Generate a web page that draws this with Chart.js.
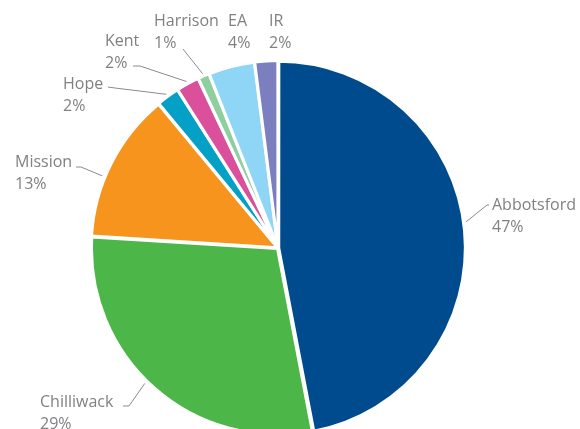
<!DOCTYPE html>
<html>
<head>
<meta charset="utf-8">
<script src="https://cdn.jsdelivr.net/npm/chart.js@4/dist/chart.umd.min.js"></script>
<style>
  html, body { margin: 0; padding: 0; background: #fff; overflow: hidden; }
  #wrap { width: 580px; height: 429px; overflow: hidden; }
</style>
</head>
<body>
<div id="wrap">
  <canvas id="share" width="580" height="440"></canvas>
</div>
<script>
  // share of total by community, clockwise from 12 o'clock
  const categories = ['Abbotsford', 'Chilliwack', 'Mission', 'Hope', 'Kent', 'Harrison', 'EA', 'IR'];
  const shares = [47, 29, 13, 2, 2, 1, 4, 2];
  const sliceColors = ['#004b8d', '#4cb748', '#f7941e', '#04a0c6', '#da509b', '#8ecf9f', '#8fd6f6', '#7b7fbf'];

  // where each callout sits; leader runs from the text to the slice edge
  // (at = how far round the slice the leader touches, 0..1)
  const calloutLayout = [
    { x: 492, y: 205, at: 0.485, leader: [[489, 205], [487, 205]] },
    { x: 40,  y: 402, at: 0.53, leader: [[123, 406], [129, 406]] },
    { x: 15,  y: 162, at: 0.4,  leader: [[76, 167], [81, 167]] },
    { x: 63,  y: 84,  at: 0.5,  leader: [[108, 87], [115, 88]] },
    { x: 105, y: 41,  at: 0.5,  leader: [[133, 66], [140, 66]] },
    { x: 154, y: 21,  at: 0.5,  leader: [[183, 49]] },
    { x: 228, y: 21,  at: 0.5,  leader: [] },
    { x: 269, y: 21,  at: 0.5,  leader: [] }
  ];

  const callouts = {
    id: 'callouts',
    afterDatasetsDraw(chart) {
      const ctx = chart.ctx;
      const arcs = chart.getDatasetMeta(0).data;
      ctx.save();
      ctx.font = '16px "Open Sans", sans-serif';
      ctx.fillStyle = '#808184';
      ctx.strokeStyle = '#8a8b8e';
      ctx.lineWidth = 1;
      ctx.textAlign = 'left';
      ctx.textBaseline = 'middle';
      arcs.forEach((arc, i) => {
        const spot = calloutLayout[i];
        ctx.fillText(categories[i], spot.x, spot.y);
        ctx.fillText(shares[i] + '%', spot.x, spot.y + 22);
        if (!spot.leader.length) return;
        const p = arc.getProps(['x', 'y', 'startAngle', 'endAngle', 'outerRadius'], true);
        const a = p.startAngle + (p.endAngle - p.startAngle) * spot.at;
        const reach = p.outerRadius + 3 + 1;
        ctx.beginPath();
        spot.leader.forEach((pt, k) => k ? ctx.lineTo(pt[0], pt[1]) : ctx.moveTo(pt[0], pt[1]));
        ctx.lineTo(p.x + Math.cos(a) * reach, p.y + Math.sin(a) * reach);
        ctx.stroke();
      });
      ctx.restore();
    }
  };

  new Chart(document.getElementById('share'), {
    type: 'pie',
    data: {
      labels: categories,
      datasets: [{
        data: shares,
        backgroundColor: sliceColors,
        borderColor: '#ffffff',
        borderWidth: 3,
        offset: 3,
        radius: 186
      }]
    },
    options: {
      responsive: false,
      animation: false,
      layout: { padding: { left: 88, right: 112, top: 58, bottom: 2 } },
      plugins: { legend: { display: false }, tooltip: { enabled: false } }
    },
    plugins: [callouts]
  });
</script>
</body>
</html>
